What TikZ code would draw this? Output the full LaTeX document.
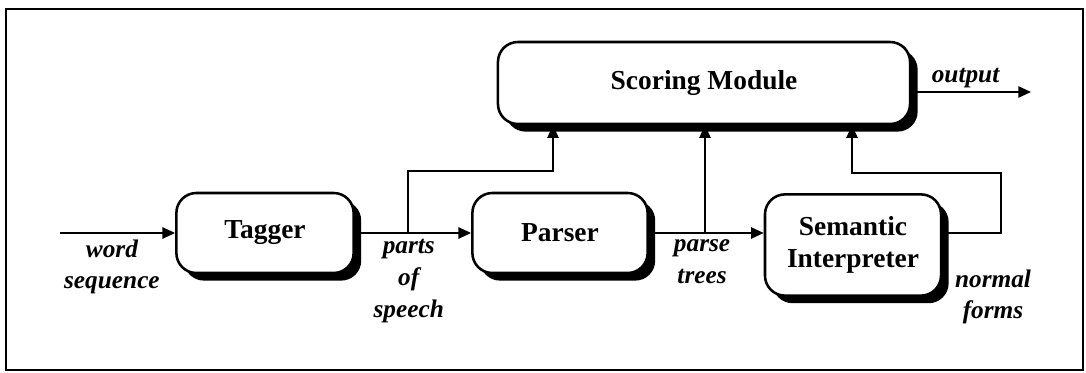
\documentclass[tikz,border=0pt]{standalone}
\usepackage{fontspec}
\setmainfont{Liberation Serif}
\usetikzlibrary{positioning, arrows.meta, shadows, calc}

\begin{document}
\begin{tikzpicture}[
    x=0.025cm, y=-0.025cm,
    module/.style={
        rectangle, rounded corners=0.5cm, draw=black, line width=1.8pt, fill=white,
        align=center, font=\fontsize{19.5}{23}\selectfont\bfseries,
        drop shadow={shadow xshift=0.19cm, shadow yshift=-0.19cm, fill=black, opacity=1}
    },
    lbl/.style={font=\fontsize{18}{22.5}\selectfont\bfseries\itshape, align=center, inner sep=2pt},
    arrow/.style={-{Triangle[length=9pt, width=8pt]}, line width=1.3pt}
]

\useasboundingbox (0,0) rectangle (1086,373);
\draw[line width=1pt] (6,9) rectangle (1083,370);

% pipeline modules
\node[module, minimum width=4.43cm, minimum height=2cm] (tagger) at (265,233) {Tagger};
\node[module, minimum width=4.38cm, minimum height=2cm] (parser) at (560,233) {Parser};
\node[module, minimum width=4.4cm, minimum height=2.53cm] (semantic) at (853,245) {Semantic\\Interpreter};
\node[module, minimum width=10.3cm, minimum height=2.05cm] (scoring) at (704,83) {Scoring Module};

\coordinate (in) at (60,233);
\coordinate (out) at (1031,92);
\coordinate (tagup) at (408,233);
\coordinate (tagbend) at (553,171);
\coordinate (parseup) at (705,233);
\coordinate (semright) at (1001,173);
\coordinate (semleft) at (852,173);

% main flow
\draw[arrow] (in) -- node[lbl, below, xshift=-4pt, yshift=-2pt] {word\\sequence} (tagger);
\draw[arrow] (tagger) -- node[lbl, below, xshift=-3pt, yshift=-2pt] {parts\\of\\speech} (parser);
\draw[arrow] (parser.east) -- node[lbl, below, xshift=-3pt, yshift=-2pt] {parse\\trees} (parser.east -| semantic.west);

% feeds into scoring
\draw[arrow] (tagup) |- (tagbend) -- (tagbend |- scoring.south);
\draw[arrow] (parseup) -- (parseup |- scoring.south);
\draw[arrow] (semantic.east |- parseup) -| (semright) -- (semleft) -- (semleft |- scoring.south);
\node[lbl] (normal) at (993,297) {normal\\forms};

\draw[arrow] (scoring.east |- out) -- node[lbl, above, xshift=-4pt] {output} (out);

\end{tikzpicture}
\end{document}
